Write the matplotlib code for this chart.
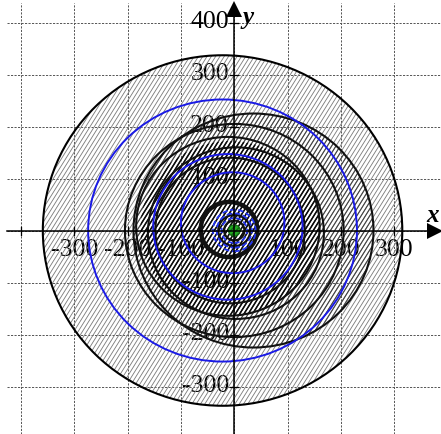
import numpy as np
import matplotlib
matplotlib.use("Agg")
import matplotlib.pyplot as plt
from matplotlib.patches import Circle
from matplotlib.collections import LineCollection

# ---- data -------------------------------------------------------------
# outer boundary circle (cx, cy, r)
outer_circle = (-22, 0, 337)
# circles bounding the medium and dense hatched zones
mid_circle = (36, 0, 225)
core_circle = (-8, 4, 168)
# black circles
black_cx = [36, -12, 3, -8, 0]
black_cy = [0, 8, -5, 0, 0]
black_r = [225, 172, 165, 140, 205]
# blue circles
blue_cx = [-22, -12, -3]
blue_cy = [0, 7, 15]
blue_r = [252, 140, 97]
# thick ring around the source
thick_ring = (-10, 2, 53)
# small rings near the origin
inner_blue_r = [40, 33, 24]
inner_black_r = [30, 19]
green_r = 11

xticks = [-300, -200, -100, 100, 200, 300]
yticks = [400, 300, 200, 100, -100, -200, -300]
grid_x = [-400, -300, -200, -100, 0, 100, 200, 300]
grid_y = [-300, -200, -100, 0, 100, 200, 300, 400]

# ---- figure -----------------------------------------------------------
W, H = 441, 435
fig = plt.figure(figsize=(W / 100, H / 100), dpi=100)
ax = fig.add_axes([0, 0, 1, 1])
XMIN, XMAX = -439.3, 387.6
YMIN, YMAX = -391.3, 445.2
ax.set_xlim(XMIN, XMAX)
ax.set_ylim(YMIN, YMAX)
ax.axis("off")
sx = W / (XMAX - XMIN)   # px per unit
sy = H / (YMAX - YMIN)

serif = ["Liberation Serif", "DejaVu Serif"]
x_left = XMIN + 7 / sx
y_top = YMAX - 4 / sy

# grid
gkw = dict(color="#555555", lw=0.7, ls=(0, (2.2, 1.4)), zorder=1)
for gx in grid_x:
    ax.plot([gx, gx], [YMIN, y_top], **gkw)
for gy in grid_y:
    ax.plot([x_left, XMAX], [gy, gy], **gkw)

# tick labels (drawn under the hatching)
for t in xticks:
    ax.text(t, -36, f"{t}", ha="center", va="center", fontsize=18.5,
            family=serif, color="black", zorder=2)
for t in yticks:
    ax.text(-10, t + 2, f"{t}", ha="right", va="center", fontsize=18.5,
            family=serif, color="black", zorder=2)


def hatch(patch, color, lw, phase=0.0, period_px=4.3, angle=58, z=3):
    ax.add_patch(patch)
    a = np.deg2rad(angle)
    dx, dy = np.cos(a) / sx, np.sin(a) / sy
    L = 700
    step = period_px / sx
    x0 = np.arange(-1400, 1400, step) + phase * step
    segs = [[(x - L * dx, -L * dy), (x + L * dx, L * dy)] for x in x0]
    lc = LineCollection(segs, colors=color, linewidths=lw, zorder=z)
    lc.set_clip_path(patch)
    ax.add_collection(lc)


def clip_circle(c):
    return Circle((c[0], c[1]), c[2], fill=False, lw=0, ec="none")


hatch(clip_circle(outer_circle), "#7c7c7c", 0.62)
hatch(clip_circle(mid_circle), "#454545", 0.8, z=3.3)
hatch(clip_circle(core_circle), "#0a0a0a", 1.1, z=3.6)

# circles
ax.add_patch(Circle(outer_circle[:2], outer_circle[2], fill=False,
                    ec="black", lw=1.5, zorder=5))
for cx, cy, r in zip(black_cx, black_cy, black_r):
    ax.add_patch(Circle((cx, cy), r, fill=False, ec="#111111", lw=1.5,
                        zorder=5))
for cx, cy, r in zip(blue_cx, blue_cy, blue_r):
    ax.add_patch(Circle((cx, cy), r, fill=False, ec="#1a1ae6", lw=1.4,
                        zorder=5))
ax.add_patch(Circle(thick_ring[:2], thick_ring[2], fill=False,
                    ec="#111111", lw=3.2, zorder=5))
for r in inner_black_r:
    ax.add_patch(Circle((0, 0), r, fill=False, ec="#111111", lw=1.6,
                        zorder=5))
for r in inner_blue_r:
    ax.add_patch(Circle((0, 0), r, fill=False, ec="#2233ee", lw=1.3,
                        ls=(0, (3, 1.5)), zorder=5.5))
ax.add_patch(Circle((0, 0), green_r, fc="#22aa22", ec="#116611", lw=0.8,
                    hatch="//////", zorder=6))

# axes with arrows
ax.plot([x_left, XMAX], [0, 0], color="black", lw=1.1, zorder=8)
ax.plot([0, 0], [YMIN, YMAX - 8 / sy], color="black", lw=1.1, zorder=8)
ax.plot([XMAX - 6 / sx], [0], marker=">", ms=11, color="black",
        mew=0, zorder=9)
ax.plot([0], [YMAX - 10 / sy], marker="^", ms=11, color="black",
        mew=0, zorder=9)
# small crosses at the axis ticks
for gx in grid_x:
    if gx != 0:
        ax.plot([gx, gx], [-4 / sy, 4 / sy], color="black", lw=0.9, zorder=8)
for gy in grid_y:
    if gy != 0:
        ax.plot([-4 / sx, 4 / sx], [gy, gy], color="black", lw=0.9, zorder=8)

ax.text(XMAX - 8 / sx, 30, "x", ha="center", va="center", fontsize=18,
        family=serif, style="italic", weight="bold", zorder=9)
ax.text(26, YMAX - 18 / sy, "y", ha="center", va="center", fontsize=18,
        family=serif, style="italic", weight="bold", zorder=9)

fig.savefig("out.png", dpi=100)
